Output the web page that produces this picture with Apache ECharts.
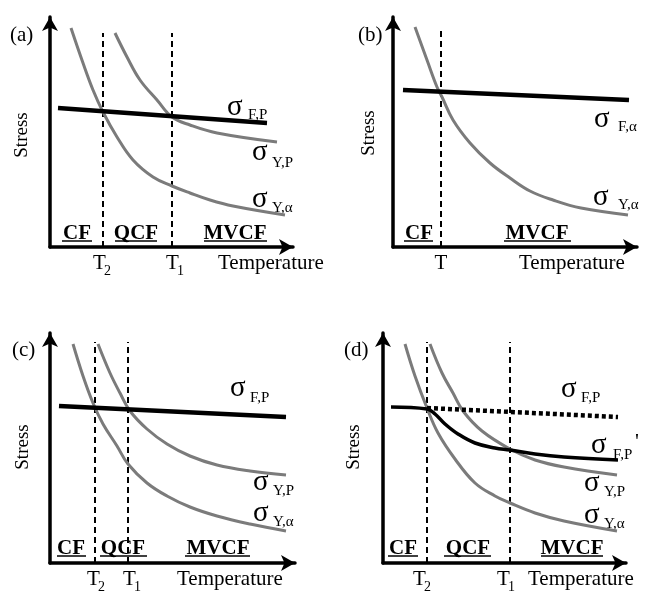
<!DOCTYPE html>
<html>
<head>
<meta charset="utf-8">
<script src="https://cdn.jsdelivr.net/npm/echarts@6/dist/echarts.min.js"></script>
<style>
  html, body { margin: 0; padding: 0; background: #fff; }
  #chart { width: 662px; height: 596px; }
</style>
</head>
<body>
<div id="chart"></div>
<script>
// units = pixels from each panel's origin (schematic)

// (a)
const aFP = [[8, 139], [217, 124]];
const aYP = [[65, 214], [77, 190], [90, 167], [107, 147], [122, 130], [140, 122], [167, 114], [227, 105]];
const aYA = [[21, 219], [33, 184], [43, 157], [53, 135], [67, 110], [83, 87], [103, 70], [122, 61], [140, 54], [160, 47], [183, 41], [235, 32]];
const aT = [53, 122];   // T2, T1
const aTtop = 214;

// (b)
const bFA = [[10, 157], [236, 147]];
const bYA = [[22, 220], [34, 187], [44, 160], [49, 150], [60, 127], [77, 104], [97, 84], [117, 69], [137, 56], [160, 47], [188, 39], [235, 32]];
const bT = [48];
const bTtop = 220;

// (c)
const cFP = [[9, 157], [236, 146]];
const cYP = [[48, 219], [60, 190], [70, 170], [80, 152], [97, 134], [117, 119], [140, 107], [167, 98], [200, 92], [236, 88]];
const cYA = [[23, 219], [33, 187], [43, 160], [53, 139], [67, 117], [78, 99], [97, 80], [117, 67], [140, 56], [167, 47], [200, 39], [236, 32]];
const cT = [45, 78];
const cTtop = 221;

// (d)
const dFPdot = [[44, 155], [235, 146]];
const dFPprime = [[8, 156], [44, 154], [52, 149], [62, 139], [75, 129], [92, 120], [112, 115], [127, 113], [152, 109], [181, 106], [235, 103]];
const dYP = [[47, 219], [59, 190], [70, 170], [80, 152], [99, 132], [127, 114], [152, 103], [181, 96], [234, 88]];
const dYA = [[22, 219], [32, 187], [44, 155], [55, 130], [72, 104], [92, 80], [112, 67], [127, 60], [152, 50], [181, 42], [234, 32]];
const dT = [44, 127];
const dTtop = 221;

const regions = ['CF', 'QCF', 'MVCF'];
const xName = 'Temperature';
const yName = 'Stress';

const SERIF = 'Liberation Serif';
const GRAY = '#7b7b7b';

const grids = [
  { left: 50, top: 17, width: 243, height: 230 },
  { left: 393, top: 17, width: 244, height: 230 },
  { left: 50, top: 333, width: 245, height: 230 },
  { left: 383, top: 333, width: 243, height: 230 }
];

function axisX(i) {
  return {
    type: 'value', gridIndex: i, min: 0, max: grids[i].width,
    axisLine: { show: true, onZero: false, symbol: ['none', 'arrow'], symbolSize: [12, 14],
      lineStyle: { color: '#000', width: 3.5 } },
    axisTick: { show: false }, axisLabel: { show: false }, splitLine: { show: false }
  };
}
function axisY(i) {
  return {
    type: 'value', gridIndex: i, min: 0, max: grids[i].height,
    axisLine: { show: true, onZero: false, symbol: ['none', 'arrow'], symbolSize: [12, 14],
      lineStyle: { color: '#000', width: 3.5 } },
    axisTick: { show: false }, axisLabel: { show: false }, splitLine: { show: false }
  };
}

function curve(i, data, color, width, extra) {
  return Object.assign({
    type: 'line', xAxisIndex: i, yAxisIndex: i, data: data,
    smooth: 0.4, showSymbol: false, silent: true,
    lineStyle: { color: color, width: width }
  }, extra || {});
}

function dashes(i, xs, top) {
  return xs.map(x => ({
    type: 'line', xAxisIndex: i, yAxisIndex: i, data: [[x, 0], [x, top]],
    showSymbol: false, silent: true,
    lineStyle: { color: '#000', width: 2, type: [6, 4] }
  }));
}

const series = [].concat(
  dashes(0, aT, aTtop),
  [curve(0, aYA, GRAY, 3), curve(0, aYP, GRAY, 3), curve(0, aFP, '#000', 4.5, { smooth: false })],
  dashes(1, bT, bTtop),
  [curve(1, bYA, GRAY, 3), curve(1, bFA, '#000', 4.5, { smooth: false })],
  dashes(2, cT, cTtop),
  [curve(2, cYA, GRAY, 3), curve(2, cYP, GRAY, 3), curve(2, cFP, '#000', 4.5, { smooth: false })],
  dashes(3, dT, dTtop),
  [curve(3, dYA, GRAY, 3), curve(3, dYP, GRAY, 3),
   curve(3, dFPdot, '#000', 4.5, { smooth: false, lineStyle: { color: '#000', width: 4.5, type: [4, 3] } }),
   curve(3, dFPprime, '#000', 3.5)]
);

// ---- text helpers ----
function txt(x, y, s, size, o) {
  o = o || {};
  return {
    type: 'text', x: x, y: y, rotation: o.rot || 0, silent: true,
    style: {
      text: s, fontFamily: SERIF, fontSize: size, fontWeight: o.bold ? 'bold' : 'normal',
      fill: '#000', align: o.align || 'left', verticalAlign: 'middle'
    }
  };
}
function sig(x, cy, xs, sub, cys) {
  return [txt(x, cy - 3, 'σ', 29), txt(xs, cys, sub, 15)];
}
function tlab(x, cy, sub) {
  return [txt(x, cy, 'T', 21), txt(x + 11, cy + 8, sub, 14)];
}
function region(cx, cy, s, x1, x2) {
  return [
    txt(cx, cy, s, 21, { bold: true, align: 'center' }),
    { type: 'line', silent: true, shape: { x1: x1, y1: cy + 7, x2: x2, y2: cy + 7 },
      style: { stroke: '#000', lineWidth: 1.5 } }
  ];
}

const graphic = [].concat(
  // (a)
  [txt(10, 35, '(a)', 21), txt(22, 135, yName, 19, { rot: Math.PI / 2, align: 'center' })],
  sig(227, 110, 248, 'F,P', 115),
  sig(252, 155, 272, 'Y,P', 163),
  sig(252, 202, 272, 'Y,α', 208),
  region(77, 234, regions[0], 62, 92),
  region(136, 234, regions[1], 115, 157),
  region(235, 234, regions[2], 204, 267),
  tlab(93, 263, '2'), tlab(166, 263, '1'),
  [txt(218, 263, xName, 21)],
  // (b)
  [txt(358, 35, '(b)', 21), txt(369, 133, yName, 19, { rot: Math.PI / 2, align: 'center' })],
  sig(594, 122, 618, 'F,α', 127),
  sig(593, 200, 618, 'Y,α', 205),
  region(419, 234, regions[0], 404, 433),
  region(537, 234, regions[2], 504, 571),
  [txt(441, 263, 'T', 21, { align: 'center' }), txt(519, 263, xName, 21)],
  // (c)
  [txt(12, 350, '(c)', 21), txt(23, 447, yName, 19, { rot: Math.PI / 2, align: 'center' })],
  sig(230, 391, 250, 'F,P', 398),
  sig(253, 485, 273, 'Y,P', 491),
  sig(253, 516, 273, 'Y,α', 522),
  region(71, 549, regions[0], 57, 86),
  region(123, 549, regions[1], 100, 147),
  region(218, 549, regions[2], 185, 250),
  tlab(87, 579, '2'), tlab(123, 579, '1'),
  [txt(177, 579, xName, 21)],
  // (d)
  [txt(344, 350, '(d)', 21), txt(354, 447, yName, 19, { rot: Math.PI / 2, align: 'center' })],
  sig(561, 392, 581, 'F,P', 398),
  sig(591, 448, 613, 'F,P', 455),
  [txt(635, 442, "'", 22)],
  sig(584, 486, 604, 'Y,P', 492),
  sig(584, 518, 604, 'Y,α', 524),
  region(403, 549, regions[0], 388, 418),
  region(468, 549, regions[1], 444, 491),
  region(572, 549, regions[2], 541, 603),
  tlab(413, 579, '2'), tlab(497, 579, '1'),
  [txt(528, 579, xName, 21)]
);

const chart = echarts.init(document.getElementById('chart'), null, { renderer: 'canvas' });
chart.setOption({
  backgroundColor: '#fff',
  animation: false,
  grid: grids,
  xAxis: [0, 1, 2, 3].map(axisX),
  yAxis: [0, 1, 2, 3].map(axisY),
  series: series,
  graphic: graphic
});
</script>
</body>
</html>
